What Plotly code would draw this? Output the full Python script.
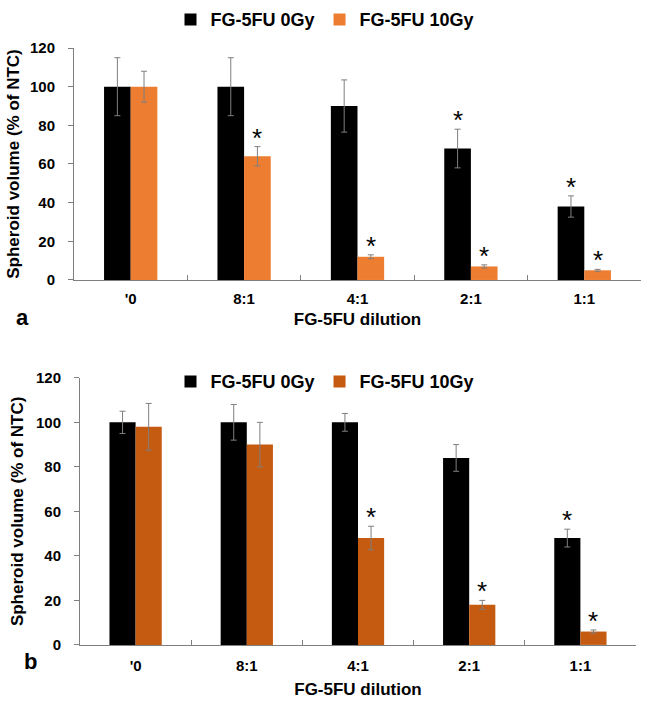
"""Spheroid volume bar charts (panels a and b) for FG-5FU dilutions"""

import plotly.graph_objects as go

# data
categories = ["'0", "8:1", "4:1", "2:1", "1:1"]

a_0gy = [100, 100, 90, 68, 38]
a_0gy_err = [15, 15, 13.5, 10, 5.5]
a_10gy = [100, 64, 12, 7, 5]
a_10gy_err = [8, 5, 1, 0.8, 0.5]
a_0gy_sig = [False, False, False, True, True]
a_10gy_sig = [False, True, True, True, True]

b_0gy = [100, 100, 100, 84, 48]
b_0gy_err = [5, 8, 4, 6, 4]
b_10gy = [98, 90, 48, 18, 6]
b_10gy_err = [10.5, 10, 5.3, 2, 0.7]
b_0gy_sig = [False, False, False, False, True]
b_10gy_sig = [False, False, True, True, True]

W, H = 645, 701
FONT = "Liberation Sans, Arial, sans-serif"
BARGAP = 0.53
ERR_COL = "#7f7f7f"
AXIS_COL = "#7f7f7f"

# panel positions (paper coords)
dom_a_x = [74 / W, 641 / W]
dom_a_y = [1 - 277.7 / H, 1 - 40 / H]
dom_b_x = [80 / W, 636 / W]
dom_b_y = [1 - 651.7 / H, 1 - 378 / H]


def bar(name, y, err, colour, xa, ya, legend):
    return go.Bar(
        x=categories, y=y, name=name,
        marker=dict(color=colour, line=dict(width=0)),
        error_y=dict(type="data", array=err, color=ERR_COL, thickness=1, width=3),
        xaxis=xa, yaxis=ya, legend=legend,
    )


fig = go.Figure()
fig.add_trace(bar("FG-5FU 0Gy", a_0gy, a_0gy_err, "#000000", "x", "y", "legend"))
fig.add_trace(bar("FG-5FU 10Gy", a_10gy, a_10gy_err, "#ED7D31", "x", "y", "legend"))
fig.add_trace(bar("FG-5FU 0Gy", b_0gy, b_0gy_err, "#000000", "x2", "y2", "legend2"))
fig.add_trace(bar("FG-5FU 10Gy", b_10gy, b_10gy_err, "#C55A11", "x2", "y2", "legend2"))

# significance asterisks above the error bars
annotations = []
panels = [
    ("x", "y", dom_a_x, [(a_0gy, a_0gy_err, a_0gy_sig, -1), (a_10gy, a_10gy_err, a_10gy_sig, 1)]),
    ("x2", "y2", dom_b_x, [(b_0gy, b_0gy_err, b_0gy_sig, -1), (b_10gy, b_10gy_err, b_10gy_sig, 1)]),
]
for xa, ya, dom, series in panels:
    cat_w = (dom[1] - dom[0]) * W / len(categories)
    shift = cat_w * (1 - BARGAP) / 4
    for vals, errs, sig, side in series:
        for c, v, e, s in zip(categories, vals, errs, sig):
            if s:
                annotations.append(dict(
                    x=c, y=v + e, xref=xa, yref=ya, text="*", showarrow=False,
                    xshift=side * shift, yshift=-8, yanchor="bottom",
                    font=dict(family=FONT, size=26, color="#000000"),
                ))

# panel letters
annotations.append(dict(x=14 / W, y=1 - 316 / H, xref="paper", yref="paper", text="a",
                        showarrow=False, font=dict(family=FONT, size=22, weight="bold")))
annotations.append(dict(x=22 / W, y=1 - 684 / H, xref="paper", yref="paper", text="b",
                        showarrow=False, font=dict(family=FONT, size=22, weight="bold")))

tick_font = dict(family=FONT, size=15, color="#000000", weight="bold")
title_font = dict(family=FONT, size=17, color="#000000", weight="bold")
legend_font = dict(family=FONT, size=18, color="#000000", weight="bold")

x_common = dict(
    type="category", showgrid=False, showline=True, linecolor=AXIS_COL, linewidth=1,
    ticks="inside", ticklen=5, tickcolor=AXIS_COL, tickson="boundaries",
    tickfont=tick_font, zeroline=False,
)
y_common = dict(
    range=[0, 120], dtick=20, showgrid=False, showline=True, linecolor=AXIS_COL,
    linewidth=1, ticks="outside", ticklen=5, tickcolor=AXIS_COL, tickfont=tick_font,
    zeroline=False, ticklabelstandoff=10,
)

fig.update_layout(
    width=W, height=H, margin=dict(l=0, r=0, t=0, b=0),
    paper_bgcolor="white", plot_bgcolor="white",
    barmode="group", bargap=BARGAP, bargroupgap=0,
    font=dict(family=FONT, size=16, color="#000000"),
    xaxis=dict(x_common, domain=dom_a_x, anchor="y", ticklabelstandoff=5,
               title=dict(text="FG-5FU dilution", font=title_font, standoff=7)),
    yaxis=dict(y_common, domain=dom_a_y, anchor="x",
               title=dict(text="Spheroid volume (% of NTC)", font=title_font, standoff=6)),
    xaxis2=dict(x_common, domain=dom_b_x, anchor="y2", ticklabelstandoff=7,
                title=dict(text="FG-5FU dilution", font=title_font, standoff=10)),
    yaxis2=dict(y_common, domain=dom_b_y, anchor="x2",
                title=dict(text="Spheroid volume (% of NTC)", font=title_font, standoff=8)),
    legend=dict(orientation="h", x=325 / W, xanchor="center", y=1 - 11 / H, yanchor="middle",
                font=legend_font, bgcolor="rgba(0,0,0,0)", itemwidth=30),
    legend2=dict(orientation="h", x=325 / W, xanchor="center", y=1 - 382 / H, yanchor="middle",
                 font=legend_font, bgcolor="rgba(0,0,0,0)", itemwidth=30),
    annotations=annotations,
)

# drop the default page margin so the figure sits at the window origin
fig.write_html("out.html", config={"displayModeBar": False},
               post_script="document.body.style.margin = '0px';")
